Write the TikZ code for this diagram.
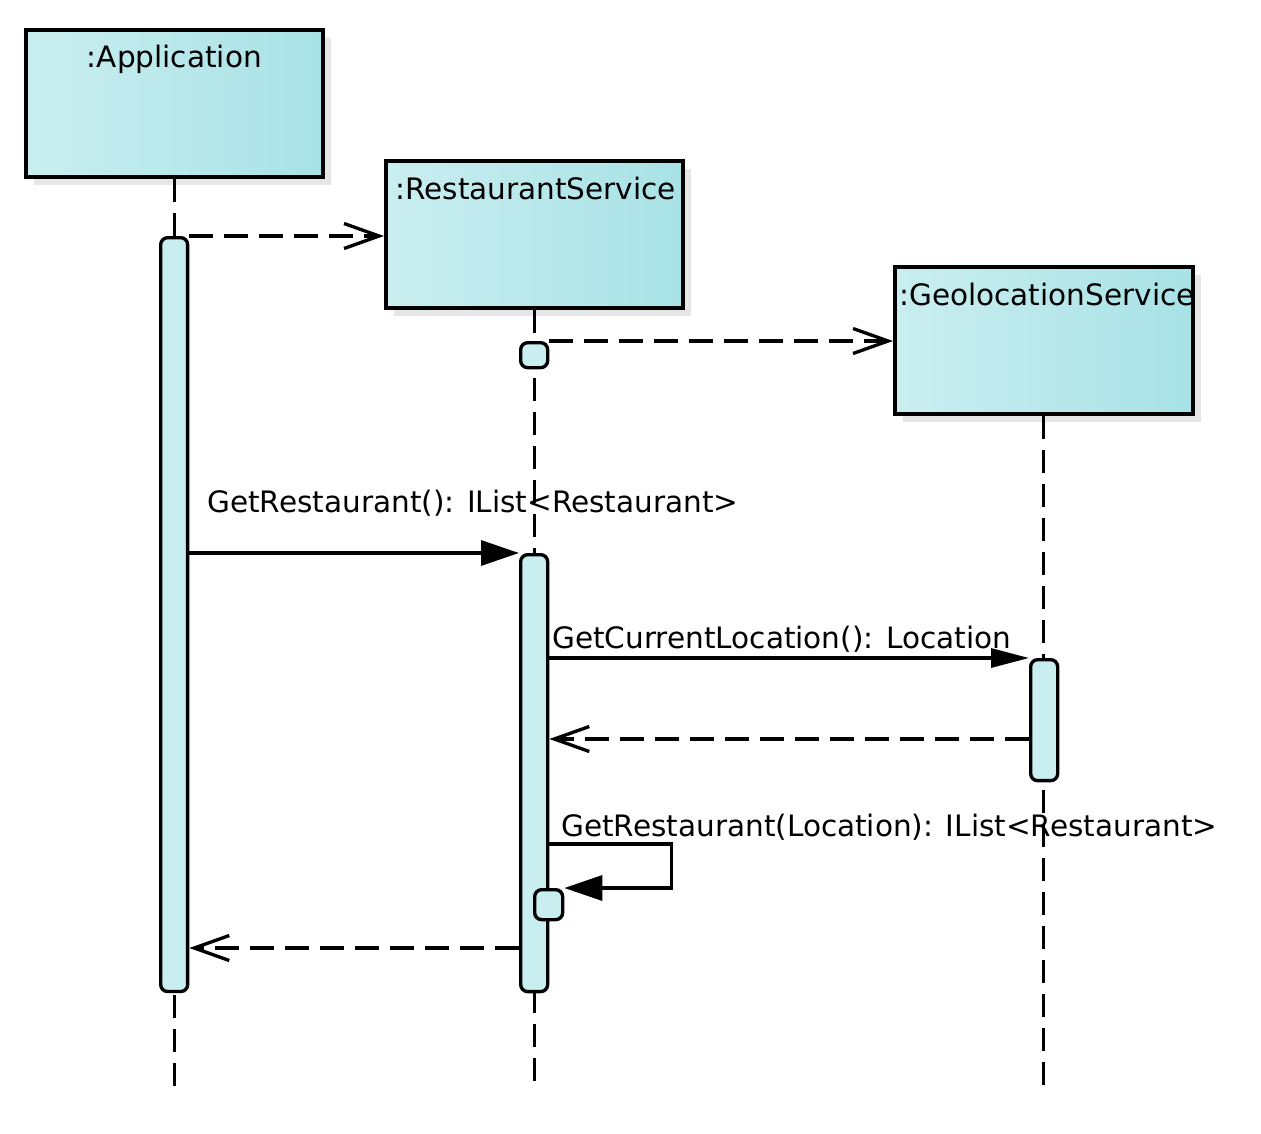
\documentclass[tikz,border=0pt]{standalone}
\usepackage{fontspec}
\setmainfont{DejaVu Sans}
\usetikzlibrary{positioning,arrows.meta,calc,shadows}
\definecolor{boxLeft}{HTML}{CAEEF0}
\definecolor{boxRight}{HTML}{A8E2E6}
\definecolor{actFill}{HTML}{C9EEF0}
\definecolor{shadowGray}{HTML}{E6E6E6}
\tikzset{
  lifebox/.style={draw,line width=2.1pt,minimum width=5.94cm,minimum height=2.94cm,
    left color=boxLeft,right color=boxRight,inner sep=0pt,anchor=north west,
    drop shadow={shadow xshift=0.16cm,shadow yshift=-0.16cm,fill=shadowGray,opacity=1}},
  actbar/.style={draw,line width=1.9pt,fill=actFill,rounded corners=0.14cm,
    minimum width=0.54cm,inner sep=0pt,anchor=north west},
  lifeline/.style={line width=1.9pt,dash pattern=on 0.46cm off 0.22cm},
  call/.style={line width=1.9pt,-{Triangle[length=0.76cm,width=0.5cm]}},
  reply/.style={line width=1.9pt,dash pattern=on 0.48cm off 0.22cm,
    -{Straight Barb[length=0.7cm,width=0.5cm]}},
  msg/.style={anchor=base west,inner sep=0pt}
}
\begin{document}
\begin{tikzpicture}[x=0.02cm,y=-0.02cm,every node/.style={font=\fontsize{16.8}{20}\selectfont}]
\useasboundingbox (0,0) rectangle (1261,1133);
% lifeline heads
\node[lifebox] (app) at (24,28) {};
\node[lifebox] (rest) at (384,159) {};
\node[lifebox,minimum width=5.96cm] (geo) at (893,265) {};
\node[anchor=base] (appName) at ($(app.north)+(0,39)$) {:Application};
\node[msg] (restName) at ($(rest.north west)+(11,40)$) {:RestaurantService};
\node[msg] (geoName) at ($(geo.north west)+(6,40)$) {:GeolocationService};
% dashed lifelines
\coordinate (appEnd) at (app.south |- 0,1088);
\coordinate (restEnd) at (rest.south |- 0,1088);
\coordinate (geoEnd) at (geo.south |- 0,1088);
\draw[lifeline] (app.south) -- (appEnd);
\draw[lifeline] (rest.south) -- (restEnd);
\draw[lifeline] (geo.south) -- (geoEnd);
% activations
\node[actbar,minimum height=15.08cm] (appAct) at (159,236) {};
\node[actbar,minimum height=0.5cm] (restNew) at (519,341) {};
\node[actbar,minimum height=8.74cm] (restAct) at (519,553) {};
\node[actbar,minimum height=2.42cm] (geoAct) at (1029,658) {};
\node[actbar,minimum height=0.6cm,minimum width=0.56cm] (nestAct) at (533,888) {};
% creation messages
\draw[reply] (appAct.north east) -- (rest.west |- appAct.north east);
\draw[reply] (restNew.north east) -- (geo.west |- restNew.north east);
% calls
\node[msg] (lblList) at (207,512) {GetRestaurant(): IList<Restaurant>};
\draw[call] (appAct.east |- restAct.north) -- (restAct.north west);
\node[msg] (lblLoc) at (552,648) {GetCurrentLocation(): Location};
\draw[call,-{Triangle[length=0.76cm,width=0.38cm]}] (restAct.east |- geoAct.north) -- (geoAct.north west);
\coordinate (locBack) at ($(geoAct.north west)+(0,81)$);
\draw[reply] (locBack) -- (restAct.east |- locBack);
% self call
\node[msg] (lblSelf) at (561,836) {GetRestaurant(Location): IList<Restaurant>};
\coordinate (selfOut) at (restAct.east |- 0,844);
\draw[call] (selfOut) -- ++(122,0) |- (nestAct.north east);
% return to application
\coordinate (listBack) at (restAct.west |- 0,948);
\draw[reply] (listBack) -- (appAct.east |- listBack);
\end{tikzpicture}
\end{document}
